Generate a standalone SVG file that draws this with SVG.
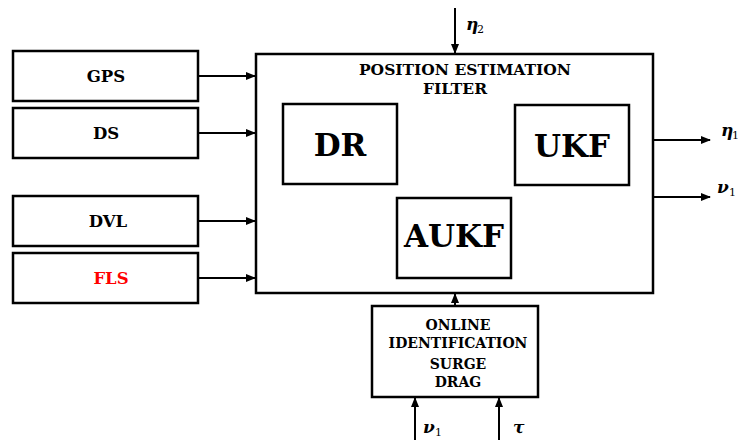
<svg xmlns="http://www.w3.org/2000/svg" width="741" height="442" viewBox="0 0 741 442">
<defs>
<marker id="ah" markerWidth="10" markerHeight="8" refX="9" refY="4" orient="auto" markerUnits="userSpaceOnUse">
<path d="M0,0 L10,4 L0,8 Z" fill="#000"/>
</marker>
<style>
.box{fill:#fff;stroke:#000;stroke-width:2.5}
.t{font-family:"DejaVu Serif","Liberation Serif",serif;font-weight:bold;text-anchor:middle;fill:#000}
.s{font-size:16.5px}
.b{font-size:31px}
.m{font-size:14px}
.h{font-size:15.5px}
.math{font-family:"DejaVu Serif","Liberation Serif",serif;font-style:italic;font-weight:bold;font-size:17px;fill:#000}
.sub{font-family:"DejaVu Serif","Liberation Serif",serif;font-size:11px;fill:#000}
.c{stroke:#000;stroke-width:2;fill:none;marker-end:url(#ah)}
</style>
</defs>
<rect width="741" height="442" fill="#fff"/>
<g id="gps"><rect class="box" x="13" y="51" width="185" height="50"/><text class="t s" x="106" y="82">GPS</text></g>
<g id="ds"><rect class="box" x="13" y="108" width="185" height="50"/><text class="t s" x="106" y="139">DS</text></g>
<g id="dvl"><rect class="box" x="13" y="196" width="185" height="50"/><text class="t s" x="108" y="227">DVL</text></g>
<g id="fls"><rect class="box" x="13" y="253" width="185" height="50"/><text class="t s" x="111" y="284" style="fill:#ff0000">FLS</text></g>
<g id="filter"><rect class="box" x="256" y="54" width="397" height="239"/>
<text class="t h" x="465" y="75">POSITION ESTIMATION</text>
<text class="t h" x="455" y="94">FILTER</text></g>
<g id="dr"><rect class="box" x="283" y="104" width="114" height="80"/><text class="t b" x="340" y="156">DR</text></g>
<g id="ukf"><rect class="box" x="515" y="105" width="114" height="80"/><text class="t b" x="572" y="157">UKF</text></g>
<g id="aukf"><rect class="box" x="397" y="198" width="114" height="80"/><text class="t b" x="454" y="247">AUKF</text></g>
<g id="online"><rect class="box" x="372" y="306" width="166" height="91"/>
<text class="t m" x="458" y="330">ONLINE</text>
<text class="t m" x="458" y="348">IDENTIFICATION</text>
<text class="t m" x="458" y="369">SURGE</text>
<text class="t m" x="458" y="387">DRAG</text></g>
<g id="connectors">
<line class="c" x1="198" y1="76" x2="255" y2="76"/>
<line class="c" x1="198" y1="133" x2="255" y2="133"/>
<line class="c" x1="198" y1="221" x2="255" y2="221"/>
<line class="c" x1="198" y1="278" x2="255" y2="278"/>
<line class="c" x1="455" y1="8" x2="455" y2="53"/>
<line class="c" x1="653" y1="140" x2="710" y2="140"/>
<line class="c" x1="653" y1="197" x2="710" y2="197"/>
<line class="c" x1="455" y1="306" x2="455" y2="294"/>
<line class="c" x1="415" y1="440" x2="415" y2="398"/>
<line class="c" x1="499" y1="440" x2="499" y2="398"/>
</g>
<g id="labels">
<text class="math" x="466" y="30">η</text><text class="sub" x="477" y="33">2</text>
<text class="math" x="721" y="136">η</text><text class="sub" x="732" y="139">1</text>
<text class="math" x="717" y="193">ν</text><text class="sub" x="729" y="196">1</text>
<text class="math" x="423" y="433">ν</text><text class="sub" x="435" y="436">1</text>
<text class="math" x="513" y="433">τ</text>
</g>
</svg>
